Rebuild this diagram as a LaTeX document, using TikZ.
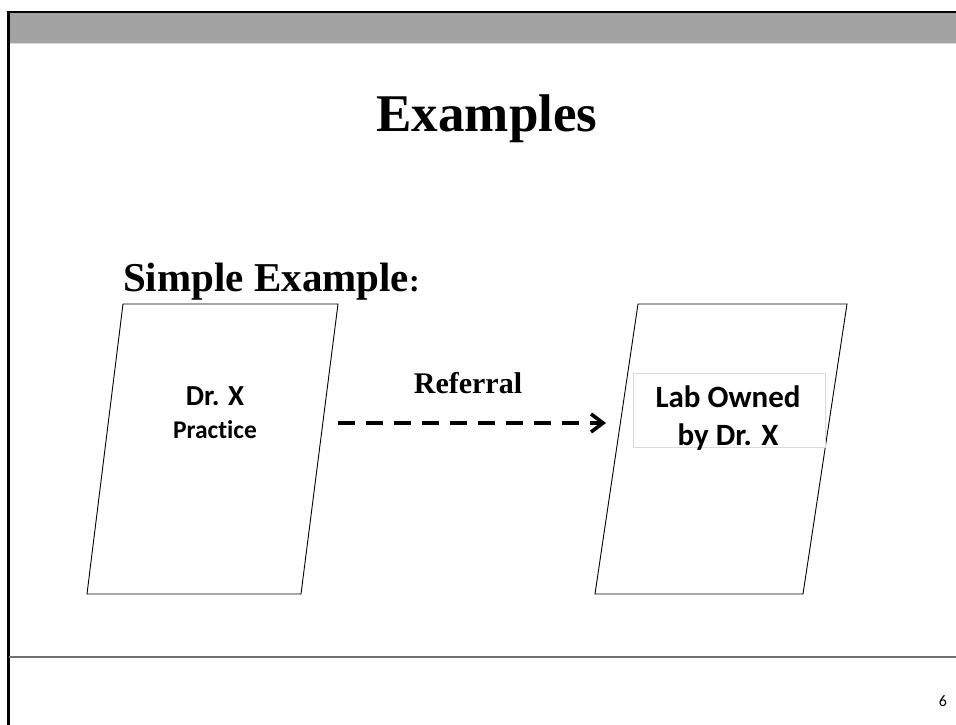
\documentclass[tikz,border=0pt]{standalone}
\usepackage{fontspec}
\setmainfont{Liberation Serif}
\newfontfamily\calib[Ligatures={NoCommon,NoRare}]{Carlito}
\usetikzlibrary{arrows.meta}
\definecolor{barGray}{HTML}{A3A3A3}
\definecolor{lineGray}{HTML}{707070}
\definecolor{boxGray}{HTML}{DADADA}
\begin{document}
\begin{tikzpicture}[x=1pt,y=-1pt,
  shapeline/.style={draw=black,line width=0.9pt},
  serifbold/.style={font=\fontsize{#1}{#1}\selectfont\bfseries,inner sep=0pt,anchor=base},
  calbold/.style={font=\calib\fontsize{#1}{#1}\selectfont\bfseries,inner sep=0pt,anchor=base},
  refarrow/.style={line width=3.6pt,dash pattern=on 17pt off 11pt,-{Straight Barb[length=12pt,width=18pt,line width=3.6pt]}}]
\useasboundingbox (0,0) rectangle (956,725);
\fill[white] (0,0) rectangle (956,725);
% header bar
\fill[barGray] (8,13) rectangle (956,43);
\draw[boxGray,line width=1pt] (8,43.5) -- (956,43.5);
\draw[black,line width=2pt] (7,12) -- (956,12);
\draw[black,line width=3pt] (8,11) -- (8,725);
% footer line
\draw[lineGray,line width=1.2pt] (9,657) -- (956,657);
\node[font=\calib\fontsize{16}{16}\selectfont,inner sep=0pt,anchor=base] (pnum) at (943,706) {6};
% titles
\node[serifbold=53] (title) at (487,131) {Examples};
\node[serifbold=41,anchor=base west] (sub) at (123,291) {Simple Example\fontsize{32}{32}\selectfont:};
% left parallelogram
\draw[shapeline] (123,304) -- (338,304) -- (301,594) -- (87,594) -- cycle;
\node[calbold=29] (drx) at (215,405) {Dr. X};
\node[calbold=25.5] (prac) at (215,438) {Practice};
% right parallelogram
\draw[shapeline] (638,304) -- (847,304) -- (803,594) -- (595,594) -- cycle;
\draw[boxGray,fill=white,line width=0.6pt] (633,373) rectangle (825,447);
\node[calbold=31] (lab) at (728,407) {Lab Owned};
\node[calbold=31] (bydr) at (728,445) {by Dr. X};
% referral arrow
\coordinate (arrS) at (338,423);
\coordinate (arrE) at (606,423);
\draw[refarrow] (arrS) -- (arrE);
\node[serifbold=30] (ref) at (468,393) {Referral};
\end{tikzpicture}
\end{document}
